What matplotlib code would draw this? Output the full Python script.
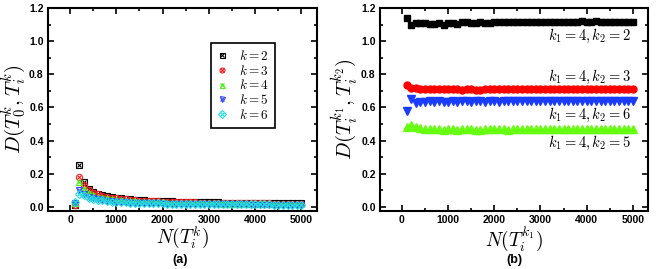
import matplotlib.pyplot as plt
from matplotlib.ticker import MultipleLocator

plt.rcParams['mathtext.fontset'] = 'cm'
plt.rcParams['font.family'] = ['Liberation Sans', 'DejaVu Sans']

# x positions (number of samples), one point every 100
n_vals = list(range(100, 5001, 100))

# panel (a): distance to T_0 for each k
d_k2 = [0.01, 0.25, 0.15, 0.11, 0.09, 0.08, 0.07, 0.065, 0.06, 0.055,
        0.05, 0.048, 0.045, 0.043, 0.04, 0.039, 0.037, 0.036, 0.035, 0.034,
        0.033, 0.032, 0.031, 0.03, 0.03, 0.029, 0.028, 0.028, 0.027, 0.027,
        0.026, 0.026, 0.025, 0.025, 0.024, 0.024, 0.023, 0.023, 0.023, 0.022,
        0.022, 0.022, 0.021, 0.021, 0.021, 0.02, 0.02, 0.02, 0.02, 0.02]
d_k3 = [0.01, 0.18, 0.13, 0.10, 0.085, 0.075, 0.065, 0.06, 0.055, 0.05,
        0.047, 0.044, 0.041, 0.039, 0.037, 0.035, 0.034, 0.033, 0.032, 0.031,
        0.03, 0.029, 0.028, 0.028, 0.027, 0.026, 0.026, 0.025, 0.025, 0.024,
        0.024, 0.023, 0.023, 0.022, 0.022, 0.022, 0.021, 0.021, 0.021, 0.02,
        0.02, 0.02, 0.02, 0.019, 0.019, 0.019, 0.019, 0.018, 0.018, 0.018]
d_k4 = [0.02, 0.15, 0.11, 0.085, 0.07, 0.06, 0.055, 0.05, 0.045, 0.042,
        0.04, 0.037, 0.035, 0.033, 0.031, 0.03, 0.029, 0.028, 0.027, 0.026,
        0.025, 0.025, 0.024, 0.023, 0.023, 0.022, 0.022, 0.021, 0.021, 0.02,
        0.02, 0.02, 0.019, 0.019, 0.019, 0.018, 0.018, 0.018, 0.018, 0.017,
        0.017, 0.017, 0.017, 0.016, 0.016, 0.016, 0.016, 0.016, 0.015, 0.015]
d_k5 = [0.02, 0.10, 0.08, 0.06, 0.05, 0.045, 0.04, 0.036, 0.033, 0.03,
        0.028, 0.026, 0.025, 0.024, 0.023, 0.022, 0.021, 0.02, 0.02, 0.019,
        0.019, 0.018, 0.018, 0.017, 0.017, 0.017, 0.016, 0.016, 0.016, 0.015,
        0.015, 0.015, 0.015, 0.014, 0.014, 0.014, 0.014, 0.014, 0.013, 0.013,
        0.013, 0.013, 0.013, 0.013, 0.012, 0.012, 0.012, 0.012, 0.012, 0.012]
d_k6 = [0.03, 0.08, 0.07, 0.055, 0.047, 0.042, 0.038, 0.034, 0.031, 0.029,
        0.027, 0.026, 0.025, 0.024, 0.023, 0.022, 0.021, 0.021, 0.02, 0.02,
        0.019, 0.019, 0.018, 0.018, 0.018, 0.017, 0.017, 0.017, 0.016, 0.016,
        0.016, 0.016, 0.015, 0.015, 0.015, 0.015, 0.015, 0.014, 0.014, 0.014,
        0.014, 0.014, 0.014, 0.013, 0.013, 0.013, 0.013, 0.013, 0.013, 0.013]
labels_a = ['$k=2$', '$k=3$', '$k=4$', '$k=5$', '$k=6$']

# panel (b): distance between k1=4 and k2
d_42 = [1.14, 1.10, 1.11, 1.11, 1.11, 1.105, 1.105, 1.11, 1.10, 1.11,
        1.11, 1.105, 1.115, 1.115, 1.11, 1.11, 1.115, 1.11, 1.11, 1.115,
        1.115, 1.115, 1.115, 1.115, 1.115, 1.115, 1.115, 1.115, 1.115, 1.115,
        1.115, 1.115, 1.115, 1.115, 1.115, 1.115, 1.115, 1.115, 1.12, 1.115,
        1.115, 1.12, 1.115, 1.115, 1.115, 1.115, 1.115, 1.115, 1.115, 1.115]
d_43 = [0.735, 0.72, 0.715, 0.71, 0.71, 0.71, 0.71, 0.71, 0.71, 0.71,
        0.71, 0.71, 0.705, 0.71, 0.71, 0.705, 0.705, 0.71, 0.71, 0.71,
        0.71, 0.71, 0.71, 0.71, 0.71, 0.71, 0.71, 0.71, 0.71, 0.71,
        0.71, 0.71, 0.71, 0.71, 0.71, 0.71, 0.71, 0.71, 0.71, 0.71,
        0.71, 0.71, 0.71, 0.71, 0.71, 0.71, 0.71, 0.71, 0.71, 0.71]
d_46 = [0.58, 0.65, 0.625, 0.635, 0.635, 0.64, 0.635, 0.64, 0.635, 0.635,
        0.64, 0.635, 0.64, 0.64, 0.635, 0.64, 0.64, 0.635, 0.64, 0.64,
        0.635, 0.64, 0.64, 0.64, 0.64, 0.64, 0.64, 0.64, 0.64, 0.64,
        0.64, 0.64, 0.64, 0.64, 0.64, 0.64, 0.64, 0.64, 0.64, 0.64,
        0.64, 0.64, 0.64, 0.64, 0.64, 0.64, 0.64, 0.64, 0.64, 0.64]
d_45 = [0.48, 0.495, 0.48, 0.475, 0.47, 0.47, 0.47, 0.47, 0.465, 0.47,
        0.47, 0.465, 0.47, 0.47, 0.47, 0.465, 0.465, 0.47, 0.47, 0.47,
        0.47, 0.47, 0.465, 0.47, 0.47, 0.47, 0.47, 0.47, 0.47, 0.47,
        0.47, 0.47, 0.47, 0.47, 0.47, 0.47, 0.47, 0.47, 0.47, 0.47,
        0.47, 0.47, 0.47, 0.47, 0.47, 0.47, 0.47, 0.47, 0.47, 0.47]
labels_b = ['$k_1=4, k_2=2$', '$k_1=4, k_2=3$', '$k_1=4, k_2=6$', '$k_1=4, k_2=5$']
label_y_b = [1.03, 0.785, 0.555, 0.385]


def style_axes(ax):
    ax.set_xlim(-480, 5330)
    ax.set_ylim(-0.025, 1.2)
    ax.xaxis.set_major_locator(MultipleLocator(1000))
    ax.xaxis.set_minor_locator(MultipleLocator(500))
    ax.yaxis.set_major_locator(MultipleLocator(0.2))
    ax.yaxis.set_minor_locator(MultipleLocator(0.1))
    ax.tick_params(which='both', direction='in', top=True, right=True, width=1.2)
    ax.tick_params(which='major', length=4, labelsize=7.5, pad=3)
    ax.tick_params(which='minor', length=2)
    for lab in ax.get_xticklabels() + ax.get_yticklabels():
        lab.set_fontweight('bold')
    for s in ax.spines.values():
        s.set_linewidth(1.5)


fig = plt.figure(figsize=(6.64, 2.69), dpi=100)
ax_a = fig.add_axes([0.072, 0.216, 0.405, 0.754])
ax_b = fig.add_axes([0.572, 0.216, 0.404, 0.754])

# (a)
series_a = [d_k2, d_k3, d_k4, d_k5, d_k6]
colors_a = ['black', '#ff2020', '#55ee22', '#3344ff', '#22dddd']
shapes_a = ['s', 'o', '^', 'v', 'D']
handles = []
for vals, col, mk in zip(series_a, colors_a, shapes_a):
    h1, = ax_a.plot(n_vals, vals, ls='none', marker=mk, ms=4.5, mfc='none',
                    mec=col, mew=0.8)
    h2, = ax_a.plot(n_vals, vals, ls='none', marker='x', ms=3.5, color=col, mew=0.8)
    handles.append((h1, h2))
leg = ax_a.legend(handles, labels_a, loc='upper right', bbox_to_anchor=(0.87, 0.86),
                  fontsize=9.5, handlelength=0.8, handletextpad=0.9, labelspacing=0.05,
                  borderpad=0.45, fancybox=False, edgecolor='black', framealpha=1,
                  markerscale=0.8)
leg.get_frame().set_linewidth(1.2)
style_axes(ax_a)
ax_a.set_xlabel('$N(T_i^k)$', fontsize=14, labelpad=0)
ax_a.set_ylabel('$D(T_0^k, T_i^k)$', fontsize=15, labelpad=1)
fig.text(0.272, 0.033, '(a)', fontsize=9, fontweight='bold', ha='center', va='center')

# (b)
ax_b.plot(n_vals, d_42, ls='none', marker='s', ms=4.5, color='black')
ax_b.plot(n_vals, d_43, ls='none', marker='o', ms=5, color='#ff0000')
ax_b.plot(n_vals, d_46, ls='none', marker='v', ms=5.5, color='#1a3cff')
ax_b.plot(n_vals, d_45, ls='none', marker='^', ms=5.5, color='#66ff11')
for txt, yy in zip(labels_b, label_y_b):
    ax_b.text(4950, yy, txt, ha='right', va='center', fontsize=10.5)
style_axes(ax_b)
ax_b.set_xlabel('$N(T_i^{k_1})$', fontsize=14, labelpad=0)
ax_b.set_ylabel('$D(T_i^{k_1}, T_i^{k_2})$', fontsize=15, labelpad=1)
fig.text(0.775, 0.033, '(b)', fontsize=9, fontweight='bold', ha='center', va='center')

fig.savefig('out.png', dpi=100)
